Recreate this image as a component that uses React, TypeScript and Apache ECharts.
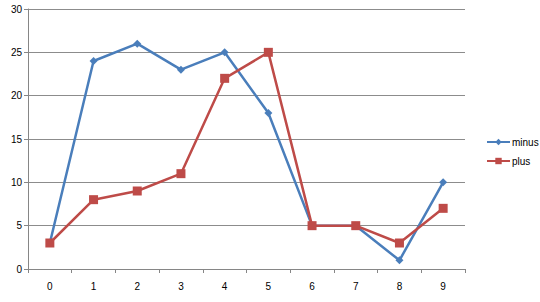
import React, { useEffect, useRef } from "react";
import * as echarts from "echarts";

const categories = ["0", "1", "2", "3", "4", "5", "6", "7", "8", "9"];
const minusValues = [3, 24, 26, 23, 25, 18, 5, 5, 1, 10];
const plusValues = [3, 8, 9, 11, 22, 25, 5, 5, 3, 7];

export default function App() {
  const ref = useRef<HTMLDivElement>(null);
  useEffect(() => {
    if (!ref.current) return;
    const chart = echarts.init(ref.current, undefined, { renderer: "svg" });
    const font = "'Liberation Sans', 'Noto Sans', sans-serif";
    chart.setOption({
      animation: false,
      backgroundColor: "#ffffff",
      grid: { left: 28, right: 75, top: 9, bottom: 33 },
      legend: {
        orient: "vertical",
        left: 481,
        top: 132,
        itemWidth: 23,
        itemHeight: 8,
        itemGap: 9,
        textStyle: { fontFamily: font, fontSize: 10, color: "#000", padding: [0, 0, 0, -3] },
        data: ["minus", "plus"],
      },
      xAxis: {
        type: "category",
        data: categories,
        boundaryGap: true,
        axisLine: { lineStyle: { color: "#868686", width: 1 } },
        axisTick: { show: true, length: 4, inside: false, lineStyle: { color: "#868686" } },
        axisLabel: { fontFamily: font, fontSize: 10, color: "#000", margin: 12 },
      },
      yAxis: {
        type: "value",
        min: 0,
        max: 30,
        interval: 5,
        axisLine: { show: true, lineStyle: { color: "#868686", width: 1 } },
        axisTick: { show: true, length: 4, lineStyle: { color: "#868686" } },
        axisLabel: { fontFamily: font, fontSize: 10, color: "#000", margin: 6 },
        splitLine: { lineStyle: { color: "#8c8c8c", width: 1 } },
      },
      series: [
        {
          name: "minus",
          type: "line",
          data: minusValues,
          color: "#4A7EBB",
          lineStyle: { width: 2.5, color: "#4A7EBB" },
          symbol: "diamond",
          symbolSize: 8,
          itemStyle: { color: "#4A7EBB" },
          z: 3,
        },
        {
          name: "plus",
          type: "line",
          data: plusValues,
          color: "#BE4B48",
          lineStyle: { width: 2.5, color: "#BE4B48" },
          symbol: "rect",
          symbolSize: 9,
          itemStyle: { color: "#BE4B48" },
          z: 4,
        },
      ],
    });
    return () => chart.dispose();
  }, []);
  return <div ref={ref} style={{ width: 540, height: 302, position: "absolute", left: 0, top: 0 }} />;
}
